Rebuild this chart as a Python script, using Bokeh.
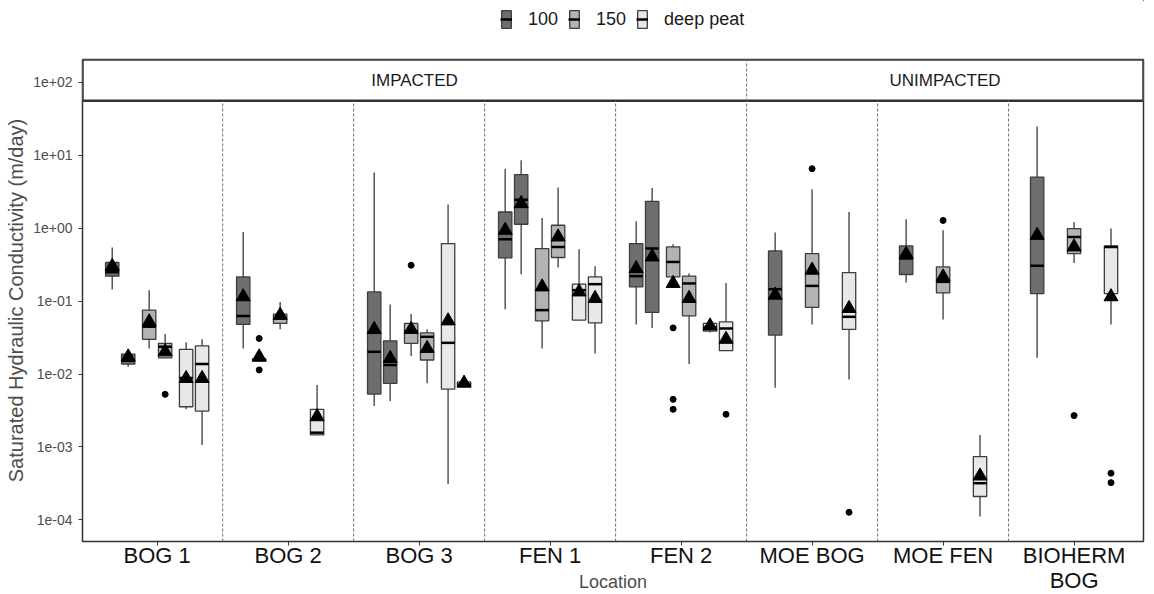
from bokeh.plotting import figure
from bokeh.layouts import column
from bokeh.models import (Range1d, FixedTicker, CustomJSTickFormatter, ColumnDataSource,
                          BoxAnnotation, Label, Legend, LegendItem)
from bokeh.embed import file_html
from bokeh.resources import INLINE

# ---------------- data ----------------
locations = ["BOG 1", "BOG 2", "BOG 3", "FEN 1", "FEN 2", "MOE BOG", "MOE FEN", "BIOHERM\nBOG"]
location_group = [0, 0, 0, 0, 0, 1, 1, 1]
groups = ["IMPACTED", "UNIMPACTED"]
depths = ["100", "150", "deep peat"]

box_location = [0, 0, 0, 0, 0, 0, 1, 1, 1, 1, 2, 2, 2, 2, 2, 2, 3, 3, 3, 3, 3, 3,
                4, 4, 4, 4, 4, 4, 5, 5, 5, 6, 6, 6, 7, 7, 7]
box_depth = [0, 0, 1, 1, 2, 2, 0, 0, 1, 2, 0, 0, 1, 1, 2, 2, 0, 0, 1, 1, 2, 2,
             0, 0, 1, 1, 2, 2, 0, 1, 2, 0, 1, 2, 0, 1, 2]
box_subgroup = [0, 1, 0, 1, 0, 1, 0, 1, 0, 0, 0, 1, 0, 1, 0, 1, 0, 1, 0, 1, 0, 1,
                0, 1, 0, 1, 0, 1, 0, 0, 0, 0, 0, 0, 0, 0, 0]
lower_whisker = [0.145, 0.0126, 0.0225, 0.0167, 0.00328, 0.00106,
                 0.0225, 0.0150, 0.0413, 0.00146,
                 0.00365, 0.00427, 0.0177, 0.00746, 0.00031, 0.0066,
                 0.0776, 0.234, 0.0225, 0.290, 0.055, 0.0192,
                 0.048, 0.043, 0.215, 0.0137, 0.0373, 0.0209,
                 0.00649, 0.048, 0.00845,
                 0.18, 0.056, 0.000111,
                 0.0167, 0.335, 0.048]
lower_quartile = [0.22, 0.0137, 0.0299, 0.0167, 0.00356, 0.00311,
                  0.048, 0.0150, 0.0495, 0.00146,
                  0.00532, 0.00746, 0.0264, 0.0156, 0.00623, 0.0068,
                  0.392, 1.135, 0.0537, 0.397, 0.055, 0.0505,
                  0.157, 0.070, 0.215, 0.063, 0.0388, 0.0209,
                  0.0342, 0.082, 0.041,
                  0.232, 0.13, 0.000209,
                  0.127, 0.45, 0.127]
median_value = [0.25, 0.0152, 0.0445, 0.0237, 0.0088, 0.0137,
                0.0624, 0.0156, 0.058, 0.00157,
                0.0202, 0.0133, 0.0388, 0.0324, 0.0268, 0.0072,
                0.707, 2.47, 0.0753, 0.555, 0.1415, 0.171,
                0.22, 0.527, 0.345, 0.175, 0.044, 0.0422,
                0.146, 0.162, 0.061,
                0.385, 0.184, 0.000318,
                0.305, 0.76, 0.555]
upper_quartile = [0.339, 0.0188, 0.0753, 0.0264, 0.0218, 0.0244,
                  0.215, 0.0162, 0.0664, 0.00328,
                  0.134, 0.0286, 0.0495, 0.0368, 0.616, 0.0078,
                  1.67, 5.44, 0.527, 1.10, 0.171, 0.215,
                  0.616, 2.34, 0.555, 0.22, 0.0495, 0.052,
                  0.489, 0.45, 0.247,
                  0.573, 0.295, 0.000736,
                  5.04, 0.99, 0.573]
upper_whisker = [0.544, 0.0196, 0.1415, 0.0353, 0.0272, 0.0301,
                 0.889, 0.0162, 0.0977, 0.00706,
                 5.8, 0.090, 0.0664, 0.0413, 2.11, 0.0080,
                 6.57, 8.54, 1.38, 3.61, 0.515, 0.301,
                 1.25, 3.57, 0.604, 0.239, 0.0525, 0.178,
                 0.873, 3.42, 1.67,
                 1.33, 0.94, 0.00146,
                 24.9, 1.22, 0.99]
mean_value = [0.30, 0.0172, 0.052, 0.0202, 0.0087, 0.0087,
              0.115, 0.0172, 0.064, 0.0026,
              0.041, 0.0164, 0.041, 0.0225, 0.0537, 0.0075,
              0.94, 2.18, 0.157, 0.76, 0.134, 0.109,
              0.28, 0.405, 0.175, 0.109, 0.0457, 0.030,
              0.121, 0.266, 0.0794,
              0.44, 0.215, 0.0004,
              0.80, 0.555, 0.115]

outlier_location = [0, 1, 1, 2, 4, 4, 4, 4, 5, 5, 6, 7, 7, 7]
outlier_depth = [1, 0, 0, 1, 1, 1, 1, 2, 1, 2, 1, 1, 2, 2]
outlier_subgroup = [1, 1, 1, 0, 0, 0, 0, 1, 0, 0, 0, 0, 0, 0]
outlier_value = [0.00527, 0.0308, 0.0114, 0.311, 0.043, 0.0045, 0.00328, 0.0028,
                 6.57, 0.000127, 1.28, 0.00269, 0.000437, 0.000324]

# ---------------- style ----------------
FONT = "Liberation Sans"
FILLS = ["#6e6e6e", "#b3b3b3", "#e8e8e8"]
BOX_LINE = "#3d3d3d"
DEPTH_STEP = 0.282
SUB_STEP = 0.122
BOX_W = 0.102
X_START, X_END = -0.57, 7.53
LOG_BOTTOM, LOG_TOP = -4.297, 2.315
STRIP_LOG = 1.75
LEGEND_H = 40

n_sub = {}
for l, s in zip(box_location, box_subgroup):
    n_sub.setdefault(l, set()).add(s)
n_sub = {k: len(v) for k, v in n_sub.items()}


def xpos(l, d, s):
    n = n_sub[l]
    return l + (d - 1) * DEPTH_STEP + (s - (n - 1) / 2) * SUB_STEP


bx = [xpos(l, d, s) for l, d, s in zip(box_location, box_depth, box_subgroup)]
ox = [xpos(l, d, s) for l, d, s in zip(outlier_location, outlier_depth, outlier_subgroup)]

y_lo, y_hi = 10 ** LOG_BOTTOM, 10 ** LOG_TOP
strip_bottom = 10 ** STRIP_LOG

p = figure(width=1154, height=594 - LEGEND_H, y_axis_type="log",
           x_range=Range1d(X_START, X_END), y_range=Range1d(y_lo, y_hi),
           output_backend="svg", toolbar_location=None,
           min_border_left=82, min_border_right=11, min_border_top=59 - LEGEND_H,
           min_border_bottom=52)
p.background_fill_color = "white"
p.border_fill_color = "white"
p.xgrid.visible = False
p.ygrid.visible = False
p.outline_line_color = "#333333"
p.outline_line_width = 1.5

# strip
strip = BoxAnnotation(bottom=strip_bottom, fill_color="white", fill_alpha=1.0,
                      line_color="#333333", line_alpha=1.0, line_width=2.5, level="underlay")
p.add_layout(strip)

# dividers between locations
div_x, div_top = [], []
for i in range(len(locations) - 1):
    div_x.append(i + 0.5)
    div_top.append(y_hi if location_group[i] != location_group[i + 1] else strip_bottom)
p.segment(x0=div_x, y0=[y_lo] * len(div_x), x1=div_x, y1=div_top,
          line_color="#6e6e6e", line_width=1, line_dash="3 2")

# strip labels
for g, name in enumerate(groups):
    idx = [i for i, gg in enumerate(location_group) if gg == g]
    left = X_START if idx[0] == 0 else idx[0] - 0.5
    right = X_END if idx[-1] == len(locations) - 1 else idx[-1] + 0.5
    p.add_layout(Label(x=(left + right) / 2, y=10 ** ((STRIP_LOG + LOG_TOP) / 2), text=name,
                       text_align="center", text_baseline="middle",
                       text_font=FONT, text_font_size="17px", text_color="#1a1a1a"))

# whiskers
p.segment(x0=bx, y0=lower_whisker, x1=bx, y1=upper_whisker, line_color="#555555", line_width=1.5)

for d, dname in enumerate(depths):
    sel = [i for i in range(len(bx)) if box_depth[i] == d]
    src = ColumnDataSource(dict(
        x=[bx[i] for i in sel],
        x0=[bx[i] - BOX_W / 2 for i in sel],
        x1=[bx[i] + BOX_W / 2 for i in sel],
        q1=[lower_quartile[i] for i in sel],
        q3=[upper_quartile[i] for i in sel],
        med=[median_value[i] for i in sel],
    ))
    p.vbar(x="x", width=BOX_W, bottom="q1", top="q3", source=src,
           fill_color=FILLS[d], line_color=BOX_LINE, line_width=1.3)
    p.segment(x0="x0", y0="med", x1="x1", y1="med", source=src,
              line_color="black", line_width=2.5)

# means
p.scatter(x=bx, y=mean_value, marker="triangle", size=14, color="black")
# outliers
p.scatter(x=ox, y=outlier_value, marker="circle", size=6, color="black")

# axes
p.yaxis.ticker = FixedTicker(ticks=[1e-4, 1e-3, 1e-2, 1e-1, 1e0, 1e1, 1e2], minor_ticks=[])
p.yaxis.formatter = CustomJSTickFormatter(code="""
const e = Math.round(Math.log10(tick));
const a = Math.abs(e);
return "1e" + (e < 0 ? "-" : "+") + (a < 10 ? "0" + a : "" + a);
""")
p.xaxis.ticker = FixedTicker(ticks=list(range(len(locations))), minor_ticks=[])
p.xaxis.major_label_overrides = {i: n for i, n in enumerate(locations)}

for ax in (p.xaxis[0], p.yaxis[0]):
    ax.axis_line_color = None
    ax.major_tick_line_color = "#333333"
    ax.major_tick_out = 4
    ax.major_tick_in = 0
    ax.minor_tick_line_color = None
    ax.major_label_text_font = FONT
    ax.axis_label_text_font = FONT
    ax.axis_label_text_font_style = "normal"
    ax.axis_label_text_color = "#4d4d4d"

p.yaxis.major_label_text_font_size = "14px"
p.yaxis.major_label_text_color = "#4d4d4d"
p.yaxis.axis_label = "Saturated Hydraulic Conductivity (m/day)"
p.yaxis.axis_label_text_font_size = "20px"
p.yaxis.axis_label_standoff = 3
p.yaxis.major_label_standoff = 6

p.xaxis.major_label_text_font_size = "22px"
p.xaxis.major_label_text_line_height = 1.0
p.xaxis.major_label_text_color = "#111111"
p.xaxis.major_label_standoff = -3
p.xaxis.axis_label = "Location"
p.xaxis.axis_label_text_font_size = "18px"
p.xaxis.axis_label_standoff = -24

# ---------------- legend strip above the plot ----------------
leg = figure(width=1154, height=LEGEND_H, x_range=Range1d(0, 1), y_range=Range1d(0, 1),
             x_axis_location=None, y_axis_location=None, output_backend="svg",
             toolbar_location=None, min_border=0)
leg.xgrid.visible = False
leg.ygrid.visible = False
leg.outline_line_color = None
leg.background_fill_color = "white"
leg.border_fill_color = "white"
items = []
for d, dname in enumerate(depths):
    rb = leg.vbar(x=[5], width=0.1, bottom=[5], top=[6], fill_color=FILLS[d],
                  line_color=BOX_LINE, line_width=1.3)
    rm = leg.segment(x0=[5], y0=[5], x1=[6], y1=[5], line_color="black", line_width=2.5)
    items.append(LegendItem(label=dname, renderers=[rb, rm]))
legend = Legend(items=items, orientation="horizontal", location=(418, 10),
                label_text_font=FONT, label_text_font_size="18px", label_text_color="#1a1a1a",
                glyph_width=12, glyph_height=22, label_standoff=16, spacing=10,
                padding=0, margin=0, border_line_color=None, background_fill_alpha=0)
leg.add_layout(legend)

layout = column(leg, p, spacing=0)
open("out.html", "w").write(file_html(layout, INLINE))
